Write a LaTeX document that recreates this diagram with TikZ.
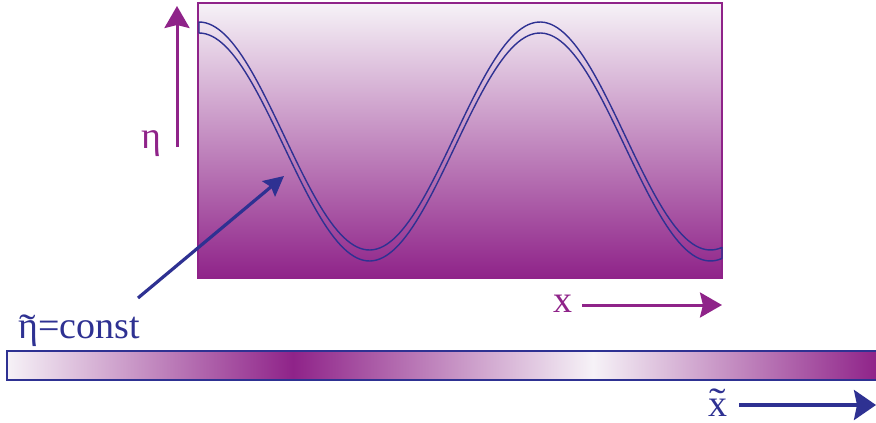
\documentclass[tikz,border=0pt]{standalone}
\usepackage{fontspec}
\setmainfont{Liberation Serif}
\usetikzlibrary{arrows.meta}
\definecolor{pur}{RGB}{143,35,137}
\definecolor{lpur}{RGB}{246,242,247}
\definecolor{dblue}{RGB}{46,49,146}
\newcommand\tildeover[2][0pt]{\ooalign{#2\cr\hfil\raisebox{#1}{\scalebox{1.3}[1]{\char"02DC}}\hfil\cr}}
\tikzset{
  bigarrow/.style={line width=3pt,-{Stealth[length=22pt,width=25pt,inset=3pt]}},
  lbl/.style={font=\fontsize{38}{40}\selectfont, inner sep=0pt},
}
\begin{document}
\begin{tikzpicture}[x=1pt,y=-1pt]
\useasboundingbox (0,0) rectangle (876,423);
% main box
\shade[top color=lpur,bottom color=pur] (198,3) rectangle (722,278);
\draw[pur,line width=1.2pt] (198,3) rectangle (722,278);
% tube
\draw[dblue,line width=1.4pt,line join=round]
  plot[domain=199:722,samples=160] (\x,{136-114*cos(1.05572*(\x-199))})
  -- plot[domain=722:199,samples=160] (\x,{147-114*cos(1.05572*(\x-199))}) -- cycle;
% eta axis
\coordinate (etaS) at (177,147);
\coordinate (etaE) at (177,6);
\draw[pur,bigarrow] (etaS) -- (etaE);
\node[lbl,text=pur] (eta) at (151,144) {η};
% x axis
\node[lbl,text=pur] (xl) at (563,304) {x};
\coordinate (xS) at (582,305);
\coordinate (xE) at (722,305);
\draw[pur,bigarrow] (xS) -- (xE);
% pointer
\node[lbl,text=dblue,anchor=base west] (const) at (18,338) {\tildeover[-2pt]{η}=const};
\coordinate (pS) at (138,298);
\coordinate (pE) at (284,176);
\draw[dblue,line width=3.2pt,-{Stealth[length=20pt,width=20pt,inset=3pt]}] (pS) -- (pE);
% bottom bar
\shade[left color=lpur,right color=pur] (7,351) rectangle (293,380);
\shade[left color=pur,right color=lpur] (293,351) rectangle (593,380);
\shade[left color=lpur,right color=pur] (593,351) rectangle (877,380);
\draw[dblue,line width=1.4pt] (877,351) -- (7,351) -- (7,380) -- (877,380);
% xtilde axis
\node[lbl,text=dblue,anchor=base] (xt) at (718,416) {\tildeover[2pt]{x}};
\coordinate (xtS) at (739,405);
\coordinate (xtE) at (876,405);
\draw[dblue,line width=3.5pt,-{Stealth[length=22pt,width=30pt,inset=3pt]}] (xtS) -- (xtE);
\end{tikzpicture}
\end{document}
